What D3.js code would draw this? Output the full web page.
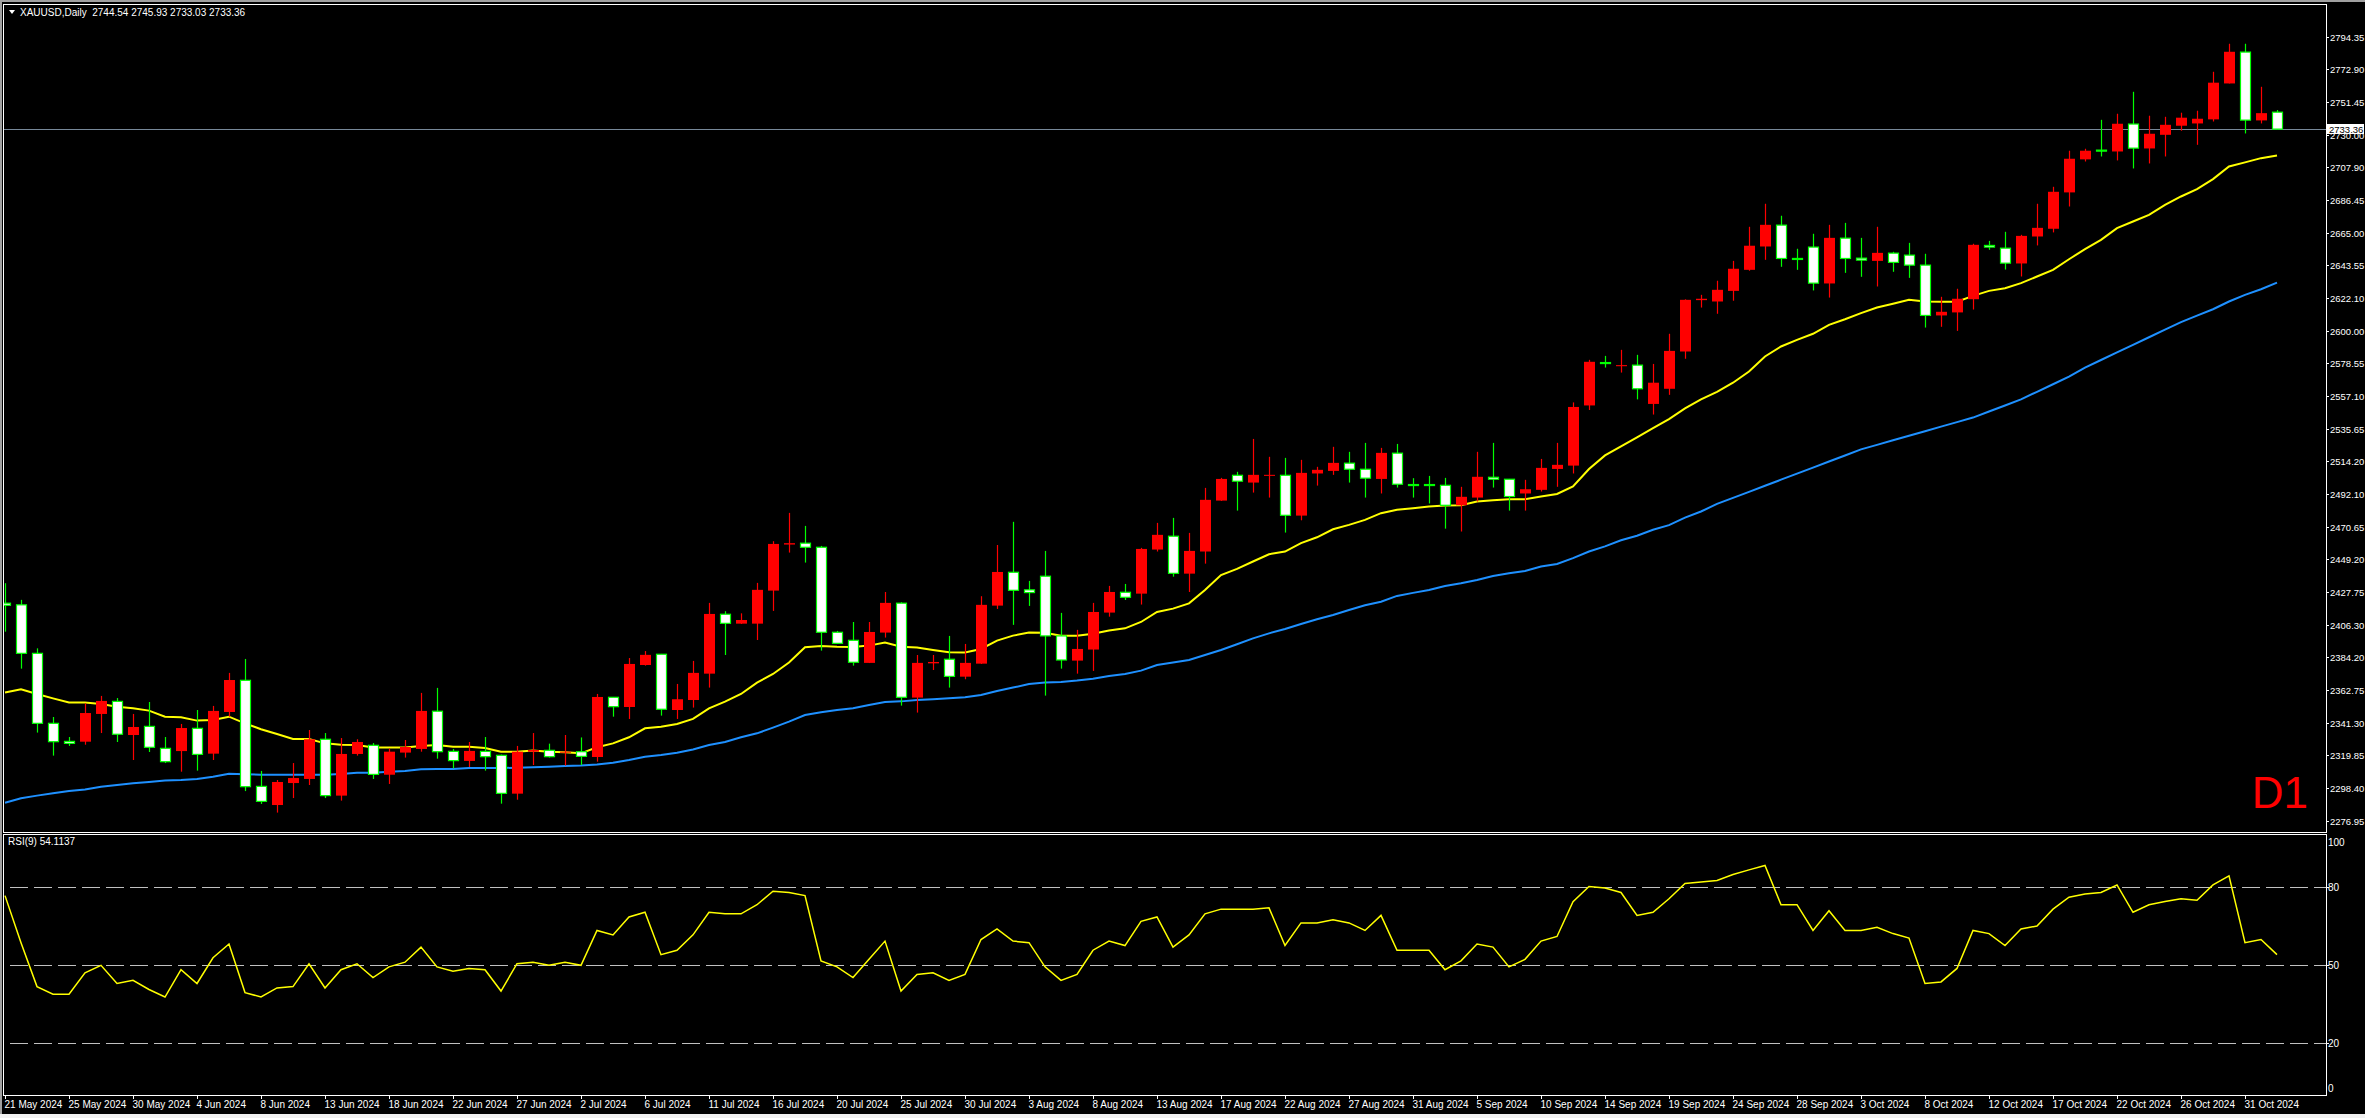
<!DOCTYPE html>
<html><head><meta charset="utf-8">
<script src="https://cdn.jsdelivr.net/npm/d3@7"></script>
<style>
html,body{margin:0;padding:0;background:#000;overflow:hidden}
svg{display:block}
text{font-family:"Liberation Sans",Arial,sans-serif;font-size:10px;fill:#fff}
</style></head><body>
<svg id="c" width="2365" height="1118"></svg>
<script>
const symbolTitle = "XAUUSD,Daily";
const lastOHLC = ["2744.54","2745.93","2733.03","2733.36"];
const rsiTitle = "RSI(9) 54.1137";
const timeframe = "D1";

const open = [2420.5,2419.4,2387.4,2341.2,2329.3,2329.1,2347.4,2355.7,2333.5,2339.2,2324.7,2322.9,2337.9,2321.2,2348.7,2369.6,2299.6,2287.3,2301.8,2304.5,2330.7,2293.5,2321.0,2326.7,2307.3,2321.9,2324.3,2349.2,2322.7,2316.4,2322.7,2320.1,2294.8,2322.5,2323.4,2322.1,2322.5,2319.0,2358.4,2352.0,2379.7,2386.8,2350.0,2356.6,2374.0,2413.2,2407.0,2407.0,2428.8,2459.2,2460.1,2457.4,2401.3,2396.0,2381.1,2401.1,2420.5,2358.2,2380.8,2383.5,2372.0,2380.6,2418.9,2440.9,2429.3,2438.3,2398.9,2382.6,2389.9,2414.3,2427.7,2426.8,2455.9,2464.7,2440.0,2454.6,2488.2,2504.9,2500.1,2504.7,2504.9,2478.3,2506.1,2507.8,2512.9,2508.9,2502.5,2519.5,2498.8,2498.8,2498.3,2485.1,2490.2,2503.6,2502.3,2492.9,2495.3,2509.1,2511.3,2551.0,2579.3,2576.9,2577.6,2552.0,2562.0,2586.6,2620.5,2619.6,2626.6,2640.5,2655.9,2670.0,2648.0,2655.5,2631.5,2661.4,2648.2,2646.4,2651.5,2650.2,2643.6,2610.4,2612.4,2621.1,2656.6,2654.8,2644.7,2662.5,2667.6,2691.6,2713.4,2719.5,2718.6,2736.7,2720.6,2729.6,2735.6,2737.1,2739.8,2763.5,2784.2,2739.1,2744.54];
const high = [2433.7,2422.7,2390.7,2345.4,2332.2,2354.4,2359.3,2357.9,2347.4,2355.3,2332.2,2340.8,2350.0,2352.7,2374.5,2383.7,2309.8,2303.8,2315.0,2336.8,2334.8,2331.5,2330.7,2328.2,2324.5,2330.2,2361.3,2364.6,2324.3,2328.9,2332.2,2320.6,2326.3,2334.8,2327.8,2333.5,2331.9,2360.6,2358.6,2384.3,2388.9,2387.0,2367.2,2382.4,2420.7,2415.2,2413.8,2433.9,2461.4,2480.1,2471.5,2458.3,2402.2,2408.1,2408.1,2427.9,2421.1,2386.3,2386.3,2398.9,2393.6,2425.1,2458.9,2474.2,2435.2,2455.0,2414.1,2402.9,2420.7,2431.9,2433.2,2457.0,2473.5,2476.8,2466.9,2496.6,2503.2,2507.2,2528.9,2517.1,2516.4,2515.1,2510.5,2523.7,2520.4,2526.3,2523.0,2525.6,2503.0,2504.5,2503.2,2497.3,2520.4,2526.3,2502.5,2501.9,2515.7,2526.3,2553.0,2581.1,2583.7,2587.7,2584.4,2578.4,2598.3,2621.0,2624.0,2633.3,2646.4,2668.9,2684.1,2676.2,2654.4,2664.3,2670.2,2671.5,2661.6,2668.9,2652.4,2658.3,2651.1,2622.7,2628.0,2657.7,2659.6,2665.6,2663.6,2684.1,2695.3,2719.1,2720.4,2739.5,2743.5,2758.0,2742.2,2741.5,2744.2,2745.5,2771.2,2789.7,2789.7,2761.3,2745.93];
const low = [2401.7,2377.3,2335.1,2319.9,2326.3,2327.1,2334.8,2328.9,2317.0,2322.3,2315.0,2309.3,2310.0,2317.0,2345.6,2296.5,2288.0,2282.3,2291.9,2300.5,2291.9,2290.2,2319.9,2304.5,2301.2,2318.6,2322.5,2317.9,2311.5,2312.4,2310.0,2288.2,2290.8,2313.7,2318.6,2313.3,2313.7,2315.9,2345.6,2344.1,2379.3,2346.3,2344.1,2351.6,2364.8,2386.3,2406.8,2396.2,2415.4,2453.9,2447.3,2389.2,2393.6,2379.3,2381.0,2397.8,2352.9,2348.3,2376.4,2364.8,2370.3,2380.4,2416.7,2406.2,2418.7,2359.5,2377.3,2374.0,2375.8,2411.6,2422.6,2419.6,2454.6,2438.0,2427.9,2446.6,2488.0,2481.6,2493.5,2490.2,2467.1,2475.2,2498.1,2505.2,2500.1,2490.2,2492.9,2496.8,2490.2,2486.3,2469.7,2467.8,2487.6,2496.8,2481.6,2481.6,2494.2,2497.3,2506.1,2548.0,2576.0,2572.7,2555.0,2545.0,2558.0,2581.8,2615.6,2611.5,2620.1,2639.9,2647.1,2642.5,2640.5,2626.9,2622.2,2638.5,2635.9,2629.5,2639.2,2635.2,2602.4,2602.9,2600.2,2614.3,2653.7,2640.7,2636.1,2656.6,2665.2,2682.3,2712.0,2715.3,2712.7,2707.4,2710.7,2715.3,2732.3,2723.0,2738.4,2763.5,2730.5,2737.1,2733.03];
const close = [2419.1,2387.4,2341.2,2329.1,2328.0,2348.0,2356.0,2334.0,2338.8,2325.4,2315.9,2338.1,2320.7,2349.4,2369.8,2299.4,2289.7,2302.5,2305.1,2330.7,2293.5,2321.0,2328.9,2307.5,2322.5,2325.6,2349.4,2322.5,2316.6,2323.0,2319.2,2295.0,2322.5,2323.6,2319.2,2322.5,2319.4,2358.6,2352.2,2380.4,2386.4,2350.5,2357.1,2374.5,2413.4,2407.2,2409.4,2429.3,2459.6,2460.1,2457.4,2401.3,2394.0,2381.5,2401.5,2420.7,2358.4,2381.1,2381.7,2372.2,2381.1,2419.4,2441.1,2429.0,2427.5,2398.9,2383.0,2390.3,2414.7,2427.9,2424.4,2456.3,2465.6,2440.2,2455.0,2488.7,2502.5,2501.0,2505.2,2505.2,2478.5,2506.5,2508.5,2513.1,2508.9,2503.0,2519.7,2499.0,2498.3,2498.3,2485.1,2490.7,2503.9,2502.3,2490.9,2495.7,2509.8,2511.8,2550.0,2579.8,2578.9,2577.6,2562.0,2566.0,2587.0,2620.7,2621.4,2627.3,2641.2,2656.4,2670.2,2648.0,2647.6,2631.7,2661.6,2648.0,2646.9,2651.7,2645.4,2643.6,2610.4,2612.8,2621.4,2657.0,2655.5,2644.9,2662.9,2668.2,2692.0,2713.8,2719.1,2718.9,2736.9,2720.8,2730.3,2736.2,2740.9,2740.2,2764.0,2784.4,2739.3,2743.9,2733.36];

const maFast = [2361.5,2363.7,2360.6,2357.7,2354.9,2354.9,2354.0,2352.2,2351.1,2349.6,2345.6,2345.2,2343.0,2343.4,2345.6,2341.2,2337.3,2334.2,2330.9,2330.9,2328.0,2327.1,2326.9,2325.2,2325.2,2325.2,2326.3,2326.9,2325.8,2325.8,2324.9,2322.5,2322.5,2323.2,2322.5,2322.1,2321.4,2325.4,2328.0,2332.0,2337.9,2339.0,2340.8,2344.1,2351.1,2355.5,2360.6,2368.1,2373.8,2381.3,2391.4,2392.3,2391.8,2391.6,2392.5,2394.5,2391.8,2391.2,2389.6,2388.1,2387.9,2390.3,2395.8,2399.1,2401.1,2401.0,2399.0,2399.0,2400.4,2402.4,2403.9,2408.1,2414.7,2416.9,2420.4,2429.2,2439.1,2443.1,2448.0,2452.8,2454.6,2460.1,2464.0,2469.3,2472.2,2475.5,2479.9,2482.1,2483.2,2484.3,2484.9,2485.1,2487.6,2488.5,2489.1,2489.1,2490.9,2492.6,2497.5,2509.0,2518.0,2524.0,2530.0,2536.0,2542.0,2549.0,2555.0,2560.0,2566.0,2573.4,2583.3,2589.9,2594.3,2598.3,2604.2,2607.9,2611.9,2615.6,2618.1,2620.7,2619.6,2619.5,2619.5,2623.3,2626.6,2628.4,2631.7,2636.1,2640.5,2647.5,2654.1,2660.3,2668.0,2672.4,2676.8,2683.4,2688.9,2693.8,2700.4,2708.7,2711.4,2714.2,2716.0];
const maSlow = [2288.8,2291.7,2293.5,2295.0,2296.5,2297.6,2299.4,2300.5,2301.6,2302.5,2303.4,2303.8,2304.5,2306.0,2308.0,2307.6,2307.3,2307.3,2307.3,2307.3,2307.3,2307.8,2308.6,2308.6,2309.3,2309.8,2310.9,2311.1,2311.1,2311.7,2311.7,2311.7,2311.9,2312.2,2312.5,2313.0,2313.3,2314.1,2315.2,2317.0,2319.2,2320.3,2321.8,2324.0,2326.9,2328.9,2332.0,2334.6,2338.4,2342.3,2346.7,2348.5,2350.0,2351.1,2353.3,2355.3,2355.7,2356.6,2357.1,2357.7,2358.4,2359.9,2362.6,2364.8,2367.2,2368.1,2368.5,2369.4,2370.7,2372.5,2373.8,2376.0,2379.7,2381.3,2383.0,2386.3,2389.6,2393.4,2397.3,2400.6,2403.5,2406.8,2409.9,2412.7,2416.0,2419.1,2421.5,2425.3,2427.3,2429.2,2431.9,2433.6,2435.8,2438.5,2440.2,2441.8,2444.7,2446.4,2450.2,2454.6,2458,2462,2465,2469,2472,2477,2481,2486,2490,2494,2498,2502,2506,2510,2514,2518,2522,2525,2528,2531,2534,2537,2540,2543,2547,2551,2555,2560,2565,2570,2576,2581,2586,2591,2596,2601,2606,2610.3,2614.5,2619.6,2624.0,2627.7,2632.1];
const rsi = [76.8,58.7,41.8,38.9,38.9,47.1,50,43.0,44.2,40.7,37.8,48.3,43.0,52.9,58.2,39.5,37.8,41.3,41.8,50.6,41.3,48.3,50.6,45.3,49.4,51.2,57.0,49.4,47.7,48.8,48.3,40.1,50.6,51.2,50,51.2,50,63.4,61.7,68.6,70.4,54.1,55.8,61.7,70.4,69.8,69.8,73.3,78.5,78.0,76.8,51.7,49.4,45.3,52.3,59.3,40.1,46.5,47.1,44.2,46.5,59.9,64.0,59.3,58.7,49.4,44.2,46.5,55.8,59.3,57.6,66.9,68.6,57.0,61.7,69.8,71.6,71.6,71.6,72.1,57.6,66.3,66.3,67.5,66.3,63.4,69.2,55.8,55.8,55.8,48.3,51.7,58.2,57.0,49.4,52.3,59.3,61.1,74.5,80.3,79.7,78.0,69.2,70.4,75.6,81.5,82.0,82.6,84.9,86.7,88.4,73.3,73.3,63.4,71.0,63.4,63.4,64.6,62.2,60.5,43.0,43.6,48.8,63.4,62.2,57.6,64.0,65.1,71.6,76.2,77.4,78.0,80.9,70.4,73.3,74.5,75.6,75.0,80.9,84.4,58.7,59.9,54.1];

const dateLabels = ["21 May 2024","25 May 2024","30 May 2024","4 Jun 2024","8 Jun 2024","13 Jun 2024","18 Jun 2024","22 Jun 2024","27 Jun 2024","2 Jul 2024","6 Jul 2024","11 Jul 2024","16 Jul 2024","20 Jul 2024","25 Jul 2024","30 Jul 2024","3 Aug 2024","8 Aug 2024","13 Aug 2024","17 Aug 2024","22 Aug 2024","27 Aug 2024","31 Aug 2024","5 Sep 2024","10 Sep 2024","14 Sep 2024","19 Sep 2024","24 Sep 2024","28 Sep 2024","3 Oct 2024","8 Oct 2024","12 Oct 2024","17 Oct 2024","22 Oct 2024","26 Oct 2024","31 Oct 2024"];
const priceTickLabels = ["2276.95","2298.40","2319.85","2341.30","2362.75","2384.20","2406.30","2427.75","2449.20","2470.65","2492.10","2514.20","2535.65","2557.10","2578.55","2600.00","2622.10","2643.55","2665.00","2686.45","2707.90","2730.00","2751.45","2772.90","2794.35"];
const rsiLevels = [20, 50, 80];
const rsiAxisLabels = [0, 20, 50, 80, 100];

// ---------- layout ----------
const L = 4, R = 2326, MT = 4, MB = 832, RT = 835, RB = 1095;
const svg = d3.select("#c");
const n = close.length;
const bars = d3.range(n).map(i => ({i, o: open[i], h: high[i], l: low[i], c: close[i]}));

const x = d3.scaleLinear().domain([0, n - 1]).range([5, 2277]);
const y = d3.scaleLinear().domain([2276.95, 2794.35]).range([820.7, 36.7]);
const yr = d3.scaleLinear().domain([0, 100]).range([1095.3, 835.3]);

// window frame strips
svg.append("rect").attr("x",0).attr("y",0).attr("width",2365).attr("height",1118).attr("fill","#000");
svg.append("rect").attr("x",0).attr("y",0).attr("width",2365).attr("height",2).attr("fill","#a0a0a0");
svg.append("rect").attr("x",0).attr("y",0).attr("width",2).attr("height",1118).attr("fill","#a0a0a0");
svg.append("rect").attr("x",0).attr("y",1114).attr("width",2365).attr("height",4).attr("fill","#f0f0f0");

const defs = svg.append("defs");
defs.append("clipPath").attr("id","cm").append("rect").attr("x",L).attr("y",MT+1).attr("width",R-L).attr("height",MB-MT-1);
defs.append("clipPath").attr("id","cr").append("rect").attr("x",L).attr("y",RT+1).attr("width",R-L).attr("height",RB-RT-1);

// ---------- main panel ----------
const gm = svg.append("g").attr("clip-path","url(#cm)");

// current price line
gm.append("line").attr("x1",L).attr("x2",R).attr("y1",Math.round(y(close[n-1]))+0.5).attr("y2",Math.round(y(close[n-1]))+0.5)
  .attr("stroke","#778899").attr("stroke-width",1);

// MAs
const lineFast = d3.line().x((d,i)=>x(i)).y(d=>y(d));
gm.append("path").datum(maSlow).attr("d",lineFast).attr("fill","none").attr("stroke","#1e90ff").attr("stroke-width",2);
gm.append("path").datum(maFast).attr("d",lineFast).attr("fill","none").attr("stroke","#ffff00").attr("stroke-width",2);

// candles
const bw = 10;
const cg = gm.append("g").selectAll("g").data(bars).join("g");
cg.append("line")
  .attr("x1",d=>Math.round(x(d.i))+0.5).attr("x2",d=>Math.round(x(d.i))+0.5)
  .attr("y1",d=>y(d.h)).attr("y2",d=>y(d.l))
  .attr("stroke",d=>d.c>d.o?"#ff0000":"#00ff00").attr("stroke-width",1.2);
cg.append("rect")
  .attr("x",d=>Math.round(x(d.i))-bw/2+ (d.c>d.o?0:0.5))
  .attr("width",d=>d.c>d.o?bw+1:bw)
  .attr("y",d=>y(Math.max(d.o,d.c)))
  .attr("height",d=>Math.max(1,Math.abs(y(d.o)-y(d.c))))
  .attr("fill",d=>d.c>d.o?"#ff0000":"#ffffff")
  .attr("stroke",d=>d.c>d.o?"none":"#00ff00").attr("stroke-width",1.2);

// D1 label
svg.append("text").attr("x",2308).attr("y",808).attr("text-anchor","end")
  .style("font-size","44px").style("fill","#ff0000").text(timeframe);

// header
svg.append("path").attr("d","M9,10 L15,10 L12,14 Z").attr("fill","#fff");
svg.append("text").attr("x",20).attr("y",16).attr("xml:space","preserve").style("white-space","pre")
  .style("font-size","10px")
  .text(symbolTitle + "  " + lastOHLC.join(" "));

// price axis
const step = (2794.35 - 2276.95) / (priceTickLabels.length - 1);
const pt = svg.append("g").selectAll("g").data(priceTickLabels).join("g")
  .attr("transform",(d,k)=>`translate(0,${Math.round(y(2276.95 + k*step))+0.5})`);
pt.append("line").attr("x1",R).attr("x2",R+3).attr("stroke","#fff");
pt.append("text").attr("x",R+4).attr("y",3.5).style("font-size","9.5px").text(d=>d);

// current price label
const yc = Math.round(y(close[n-1]));
svg.append("rect").attr("x",R+1).attr("y",yc-5).attr("width",37).attr("height",10).attr("fill","#fff");
svg.append("text").attr("x",R+3).attr("y",yc+3.5).style("fill","#000").style("font-size","9.5px")
  .text(close[n-1].toFixed(2));

// ---------- RSI panel ----------
const gr = svg.append("g").attr("clip-path","url(#cr)");
gr.selectAll("line.lv").data(rsiLevels).join("line").attr("class","lv")
  .attr("x1",L+6).attr("x2",R).attr("y1",d=>Math.round(yr(d))+0.5).attr("y2",d=>Math.round(yr(d))+0.5)
  .attr("stroke","#c0c0c0").attr("stroke-dasharray","18,6");
gr.append("path").datum(rsi).attr("d",d3.line().x((d,i)=>x(i)).y(d=>yr(d)))
  .attr("fill","none").attr("stroke","#ffff00").attr("stroke-width",1.5);
svg.append("text").attr("x",8).attr("y",845).text(rsiTitle);

const ra = svg.append("g").selectAll("g").data(rsiAxisLabels).join("g");
ra.filter(d=>d>0&&d<100).append("line").attr("x1",R).attr("x2",R+3)
  .attr("y1",d=>Math.round(yr(d))+0.5).attr("y2",d=>Math.round(yr(d))+0.5).attr("stroke","#fff");
ra.append("text").attr("x",R+2).style("font-size","10px")
  .attr("y",d=> d===100 ? yr(d)+10.5 : (d===0 ? yr(d)-3.5 : yr(d)+3.5)).text(d=>d);

// ---------- frames ----------
const fr = svg.append("g").attr("stroke","#fff").attr("fill","none").attr("stroke-width",1);
fr.append("rect").attr("x",L-0.5).attr("y",MT+0.5).attr("width",R-L+1).attr("height",MB-MT);
fr.append("rect").attr("x",L-0.5).attr("y",RT-0.5).attr("width",R-L+1).attr("height",RB-RT+1);

// ---------- time axis ----------
const ta = svg.append("g").selectAll("g").data(dateLabels).join("g")
  .attr("transform",(d,k)=>`translate(${Math.round(x(4*k))+0.5},0)`);
ta.append("line").attr("y1",RB).attr("y2",RB+4).attr("stroke","#fff");
ta.append("text").attr("x",-1).attr("y",RB+13).text(d=>d);
</script>
</body></html>
